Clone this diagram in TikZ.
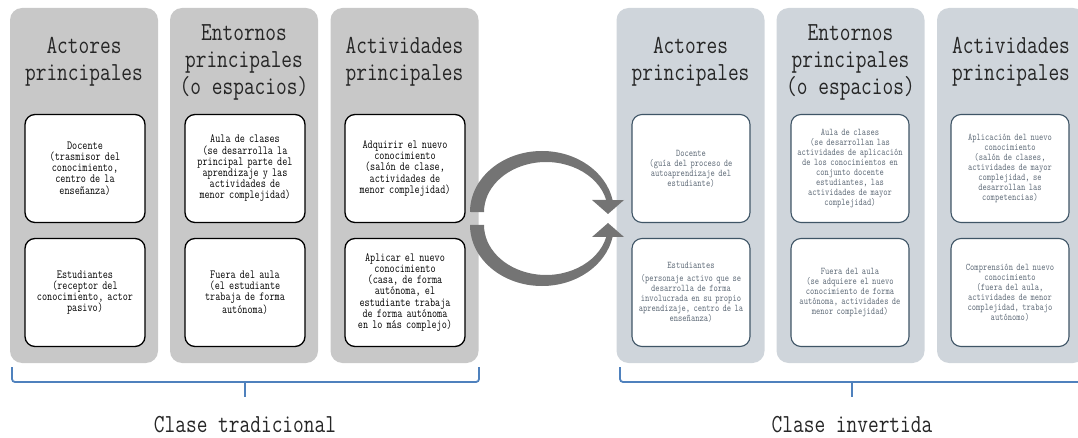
\documentclass[tikz,border=0pt]{standalone}
\usepackage{fontspec}
\setmonofont[FakeStretch=0.8]{Latin Modern Mono}
\usetikzlibrary{positioning,calc}

\definecolor{oldgray}{HTML}{C8C8C8}
\definecolor{newgray}{HTML}{CFD5DB}
\definecolor{boxblue}{HTML}{3F5566}
\definecolor{textblue}{HTML}{5F6B78}
\definecolor{braceblue}{HTML}{4F81BD}
\definecolor{arrowgray}{HTML}{747474}

\begin{document}
\begin{tikzpicture}[x=1pt,y=1pt,font=\ttfamily]
    \tikzstyle{every node}=[inner sep=0,align=center]
    \tikzstyle{panel}=[rectangle,rounded corners=12,minimum width=148,minimum height=355]
    \tikzstyle{oldpanel}=[panel,fill=oldgray]
    \tikzstyle{newpanel}=[panel,fill=newgray]
    \tikzstyle{title}=[text=black!85,font=\ttfamily\fontsize{26}{27}\selectfont]
    \tikzstyle{oldbox}=[rectangle,rounded corners=10,draw=black,line width=1.3,fill=white,minimum width=120,minimum height=108,text width=118,font=\ttfamily\fontsize{12.4}{11.2}\selectfont]
    \tikzstyle{newbox}=[oldbox,draw=boxblue,line width=1.1,minimum width=118,text width=116,text=textblue,font=\ttfamily\fontsize{10.2}{10}\selectfont]
    \tikzstyle{brace}=[draw=braceblue,line width=1.8,rounded corners=3]
    \tikzstyle{caption}=[text=black!85,font=\ttfamily\fontsize{26}{27}\selectfont]
    \tikzstyle{turn}=[fill=arrowgray]
    {
        \clip (0,0) rectangle (1078,-438);

        % clase tradicional
        \node[oldpanel] (actold) at (84,-185.5) {};
        \node[oldpanel] (entold) at (244,-185.5) {};
        \node[oldpanel] (actvold) at (404.5,-185.5) {};

        \node[title] (actoldt) at (84,-62) {Actores\\principales};
        \node[title] (entoldt) at (244,-62) {Entornos\\principales\\(o espacios)};
        \node[title] (actvoldt) at (404.5,-62) {Actividades\\principales};

        \node[oldbox] (docold) at (85,-168.5) {Docente\\(trasmisor del\\conocimiento,\\centro de la\\enseñanza)};
        \node[oldbox,node distance=124] (estold) [below of=docold] {Estudiantes\\(receptor del\\conocimiento, actor\\pasivo)};
        \node[oldbox] (aulaold) at (245,-168.5) {Aula de clases\\(se desarrolla la\\principal parte del\\aprendizaje y las\\actividades de\\menor complejidad)};
        \node[oldbox,node distance=124] (fueraold) [below of=aulaold] {Fuera del aula\\(el estudiante\\trabaja de forma\\autónoma)};
        \node[oldbox] (adqold) at (405,-168.5) {Adquirir el nuevo\\conocimiento\\(salón de clase,\\actividades de\\menor complejidad)};
        \node[oldbox,node distance=124] (aplold) [below of=adqold] {Aplicar el nuevo\\conocimiento\\(casa, de forma\\autónoma, el\\estudiante trabaja\\de forma autónoma\\en lo más complejo)};

        % clase invertida
        \node[newpanel] (actnew) at (690.5,-185.5) {};
        \node[newpanel] (entnew) at (850.5,-185.5) {};
        \node[newpanel] (actvnew) at (1011,-185.5) {};

        \node[title] (actnewt) at (690.5,-62) {Actores\\principales};
        \node[title] (entnewt) at (850.5,-62) {Entornos\\principales\\(o espacios)};
        \node[title] (actvnewt) at (1011,-62) {Actividades\\principales};

        \node[newbox] (docnew) at (691,-168.5) {Docente\\(guía del proceso de\\autoaprendizaje del\\estudiante)};
        \node[newbox,node distance=124] (estnew) [below of=docnew] {Estudiantes\\[3pt](personaje activo que se\\desarrolla de forma\\involucrada en su propio\\aprendizaje, centro de la\\enseñanza)};
        \node[newbox] (aulanew) at (850,-168.5) {Aula de clases\\(se desarrollan las\\actividades de aplicación\\de los conocimientos en\\conjunto docente\\estudiantes, las\\actividades de mayor\\complejidad)};
        \node[newbox,node distance=124] (fueranew) [below of=aulanew] {Fuera del aula\\(se adquiere el nuevo\\conocimiento de forma\\autónoma, actividades de\\menor complejidad)};
        \node[newbox] (aplnew) at (1010,-168.5) {Aplicación del nuevo\\conocimiento\\(salón de clases,\\actividades de mayor\\complejidad, se\\desarrollan las\\competencias)};
        \node[newbox,node distance=124] (compnew) [below of=aplnew] {Comprensión del nuevo\\conocimiento\\(fuera del aula,\\actividades de menor\\complejidad, trabajo\\autónomo)};

        % llaves
        \coordinate (bold1) at (12,-367);
        \coordinate (bold2) at (479,-367);
        \coordinate (boldm) at (245,-382);
        \coordinate (bnew1) at (620,-367);
        \coordinate (bnew2) at (1088,-367);
        \coordinate (bnewm) at (852,-382);

        \draw[brace] (bold1) |- (boldm) -| (bold2);
        \draw[brace] (boldm) -- +(0,-15);
        \draw[brace] (bnew1) |- (bnewm) -| (bnew2);
        \draw[brace] (bnewm) -- +(0,-15);

        \node[caption] (tradicional) at (245,-425) {Clase tradicional};
        \node[caption] (invertida) at (852,-425) {Clase invertida};

        % ciclo
        \fill[turn] (470,-212) arc[start angle=180,end angle=11.3,x radius=72,y radius=61]
            -- (624,-200) -- (608,-214) -- (592,-200) -- (606.2,-200)
            arc[start angle=13.9,end angle=180,x radius=62,y radius=50] -- cycle;
        \fill[turn] (470,-225) arc[start angle=180,end angle=348.7,x radius=72,y radius=61]
            -- (624,-237) -- (608,-223) -- (592,-237) -- (606.2,-237)
            arc[start angle=346.1,end angle=180,x radius=62,y radius=50] -- cycle;
    }
\end{tikzpicture}
\end{document}
